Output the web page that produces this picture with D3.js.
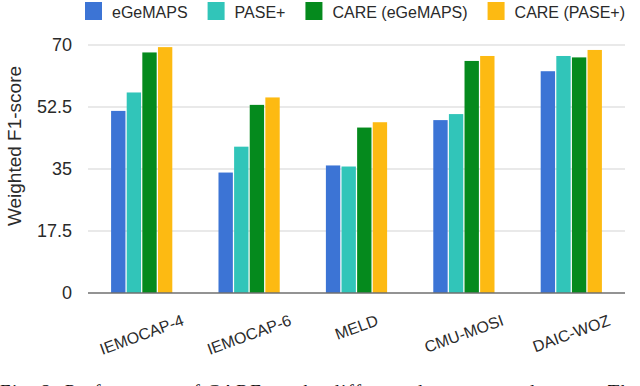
<!DOCTYPE html>
<html><head><meta charset="utf-8">
<script src="https://cdn.jsdelivr.net/npm/d3@7"></script>
<style>html,body{margin:0;padding:0;background:#fff;overflow:hidden}</style>
</head><body>
<svg id="c" width="640" height="386"></svg>
<script>
const categories = ["IEMOCAP-4","IEMOCAP-6","MELD","CMU-MOSI","DAIC-WOZ"];
const seriesNames = ["eGeMAPS","PASE+","CARE (eGeMAPS)","CARE (PASE+)"];
const eGeMAPS = [51.4, 34.0, 36.0, 48.8, 62.6];
const PASEplus = [56.6, 41.3, 35.7, 50.5, 66.9];
const CAREeGeMAPS = [67.9, 53.1, 46.7, 65.5, 66.5];
const CAREPASE = [69.4, 55.2, 48.2, 66.9, 68.6];
const yTicks = [0, 17.5, 35, 52.5, 70];
const colors = ["#3c74d5", "#31c5b9", "#058a1d", "#fdba12"];
const series = [eGeMAPS, PASEplus, CAREeGeMAPS, CAREPASE];

const svg = d3.select("#c");
const font = "'Liberation Sans', Arial, sans-serif";
const x0 = d3.scaleBand().domain(categories).range([88, 625]).paddingInner(0.43).paddingOuter(0.215);
const x1 = d3.scaleBand().domain(d3.range(4)).range([0, x0.bandwidth()]).paddingInner(0.08);
const y = d3.scaleLinear().domain([0, 70]).range([293, 45]);

// gridlines
svg.append("g").selectAll("line").data(yTicks.filter(d => d > 0)).join("line")
  .attr("x1", 88).attr("x2", 625).attr("y1", d => y(d)).attr("y2", d => y(d))
  .attr("stroke", "#e2e2e2").attr("stroke-width", 1.5);

// y tick labels via axis
const ya = svg.append("g").attr("transform", "translate(88,0)")
  .call(d3.axisLeft(y).tickValues(yTicks).tickSize(0).tickPadding(16).tickFormat(d => String(d)));
ya.select(".domain").remove();
ya.selectAll("text").attr("font-family", font).attr("font-size", 18).attr("fill", "#2a2a2a");

// bars
const g = svg.append("g");
categories.forEach((c, i) => {
  series.forEach((s, j) => {
    g.append("rect")
      .attr("x", x0(c) + x1(j)).attr("width", x1.bandwidth())
      .attr("y", y(s[i])).attr("height", y(0) - y(s[i]))
      .attr("fill", colors[j]);
  });
});

// baseline
svg.append("line").attr("x1", 88).attr("x2", 625).attr("y1", y(0)).attr("y2", y(0))
  .attr("stroke", "#6f6f6f").attr("stroke-width", 1.5);

// x labels rotated -20deg, horizontally centered on group, top aligned
const xl = svg.append("g");
categories.forEach(c => {
  const cx = x0(c) + x0.bandwidth() / 2;
  const t = xl.append("text").text(c).attr("font-family", font).attr("font-size", 16)
    .attr("fill", "#2a2a2a").attr("text-anchor", "middle").attr("dominant-baseline", "central");
  const L = t.node().getComputedTextLength();
  const h = 12;
  const th = 20 * Math.PI / 180;
  const vert = L * Math.sin(th) + h * Math.cos(th);
  const cy = 314 + vert / 2;
  t.attr("transform", `translate(${cx},${cy}) rotate(-20)`);
});

// y title
svg.append("text").text("Weighted F1-score")
  .attr("font-family", font).attr("font-size", 19).attr("fill", "#2a2a2a")
  .attr("text-anchor", "middle")
  .attr("transform", "translate(21,146) rotate(-90)");

// legend
let lx = 85;
seriesNames.forEach((n, j) => {
  svg.append("rect").attr("x", lx).attr("y", 2).attr("width", 17).attr("height", 18).attr("fill", colors[j]);
  const t = svg.append("text").text(n).attr("x", lx + 27).attr("y", 18)
    .attr("font-family", font).attr("font-size", 16).attr("fill", "#2a2a2a");
  lx = lx + 27 + t.node().getComputedTextLength() + 20;
});

// cropped caption (cut off at the bottom edge, as in the reference)
svg.append("text").text("Fig. 2:  Performance of CARE on the different downstream datasets. The")
  .attr("x", 0).attr("y", 398).attr("font-family", "'Liberation Serif', 'Times New Roman', serif")
  .attr("font-size", 19).attr("fill", "#111").attr("textLength", 640).attr("lengthAdjust", "spacing");
</script>
</body></html>
